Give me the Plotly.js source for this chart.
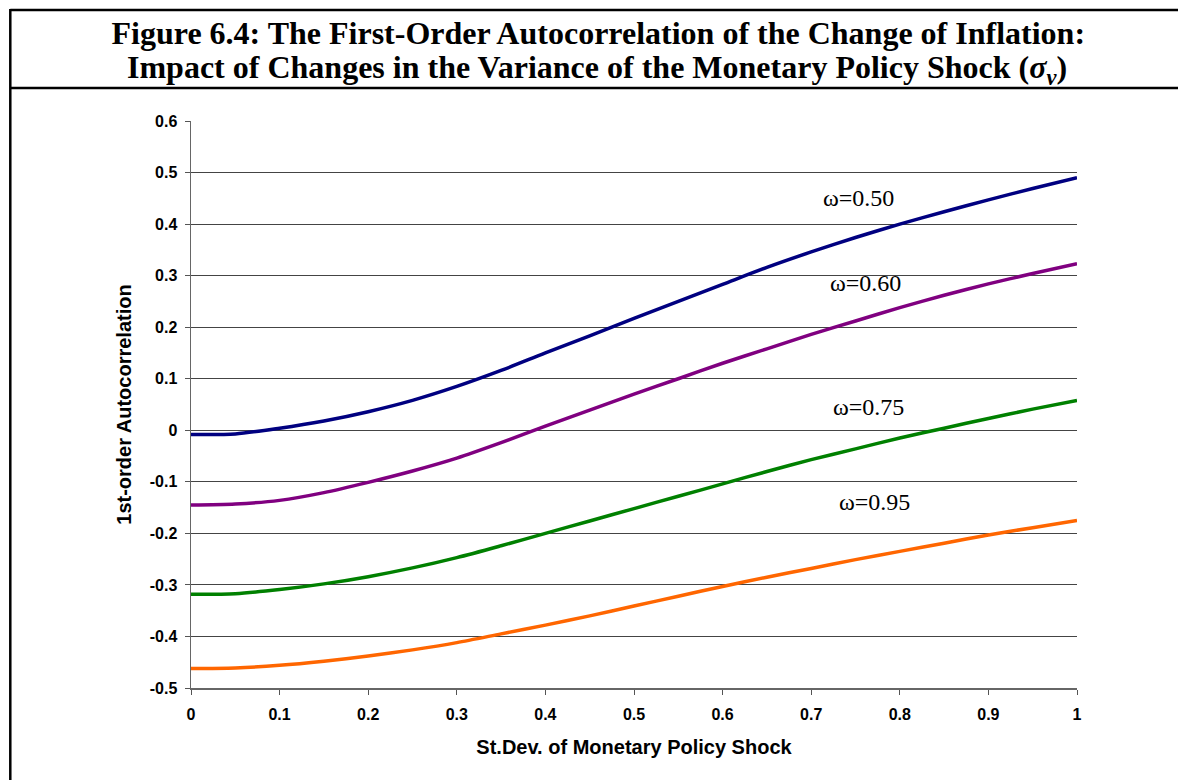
<!DOCTYPE html>
<html>
<head>
<meta charset="utf-8">
<script src="https://cdn.plot.ly/plotly-3.0.1.min.js"></script>
<style>
  html, body { margin: 0; padding: 0; background: #fff; }
  #chart { width: 1178px; height: 780px; }
</style>
</head>
<body>
<div id="chart"></div>
<script>
// ---- data ----
const sigmaV = [0, 0.05, 0.1, 0.15, 0.2, 0.25, 0.3, 0.35, 0.4, 0.45, 0.5,
                0.55, 0.6, 0.65, 0.7, 0.75, 0.8, 0.85, 0.9, 0.95, 1.0];
const omega050 = [-0.008, -0.007, 0.004, 0.018, 0.036, 0.058, 0.085, 0.116, 0.150, 0.183, 0.217,
                  0.250, 0.283, 0.316, 0.346, 0.374, 0.400, 0.424, 0.447, 0.469, 0.490];
const omega060 = [-0.145, -0.143, -0.136, -0.121, -0.101, -0.079, -0.054, -0.024, 0.008, 0.039, 0.070,
                  0.100, 0.130, 0.158, 0.186, 0.212, 0.238, 0.262, 0.284, 0.304, 0.323];
const omega075 = [-0.318, -0.317, -0.309, -0.298, -0.284, -0.267, -0.247, -0.224, -0.200, -0.176, -0.152,
                  -0.128, -0.104, -0.080, -0.057, -0.036, -0.015, 0.004, 0.023, 0.041, 0.058];
const omega095 = [-0.462, -0.461, -0.456, -0.448, -0.438, -0.426, -0.412, -0.395, -0.378, -0.360, -0.341,
                  -0.322, -0.303, -0.285, -0.268, -0.251, -0.235, -0.219, -0.203, -0.189, -0.175];
const seriesLabels = ["ω=0.50", "ω=0.60", "ω=0.75", "ω=0.95"];
const xTickVals = [0, 0.1, 0.2, 0.3, 0.4, 0.5, 0.6, 0.7, 0.8, 0.9, 1];
const xTickText = ["0", "0.1", "0.2", "0.3", "0.4", "0.5", "0.6", "0.7", "0.8", "0.9", "1"];
const yTickVals = [-0.5, -0.4, -0.3, -0.2, -0.1, 0, 0.1, 0.2, 0.3, 0.4, 0.5, 0.6];
const yTickText = ["-0.5", "-0.4", "-0.3", "-0.2", "-0.1", "0", "0.1", "0.2", "0.3", "0.4", "0.5", "0.6"];
const titleLine1 = "Figure 6.4: The First-Order Autocorrelation of the Change of Inflation:";
const titleLine2 = "Impact of Changes in the Variance of the Monetary Policy Shock (<i>σ<sub>v</sub></i>)";

// ---- styling ----
const colors = ["#000080", "#800080", "#008000", "#FF6600"];
const allSeries = [omega050, omega060, omega075, omega095];
const labelPos = [[0.753, 0.451], [0.761, 0.286], [0.765, 0.045], [0.772, -0.139]];

const W = 1178, H = 780;
const L = 190.7, R = 1076.7, T = 121, B = 687.7;
const px2x = p => (p - L) / (R - L);
const py2y = p => (B - p) / (B - T);
const serif = 'Liberation Serif, Times New Roman, serif';
const sans = 'Liberation Sans, Arial, sans-serif';

const traces = allSeries.map((ys, i) => ({
  x: sigmaV, y: ys, type: 'scatter', mode: 'lines',
  name: seriesLabels[i],
  line: { color: colors[i], width: 3.5, shape: 'spline', smoothing: 0.8 },
  showlegend: false, hoverinfo: 'skip'
}));

const annotations = seriesLabels.map((t, i) => ({
  x: labelPos[i][0], y: labelPos[i][1], xref: 'x', yref: 'y',
  text: t, showarrow: false,
  font: { family: serif, size: 24, color: '#000' },
  xanchor: 'center', yanchor: 'middle'
}));
annotations.push({
  x: px2x(597), y: py2y(70), xref: 'paper', yref: 'paper',
  text: '<b>' + titleLine2 + '</b>', showarrow: false,
  font: { family: serif, size: 32, color: '#000' },
  xanchor: 'center', yanchor: 'middle'
});

const borderLine = { color: '#000', width: 2.5 };
const shapes = [
  { type: 'line', xref: 'paper', yref: 'paper', x0: px2x(10), x1: px2x(W + 5), y0: py2y(10), y1: py2y(10), line: borderLine },
  { type: 'line', xref: 'paper', yref: 'paper', x0: px2x(10), x1: px2x(W + 5), y0: py2y(88), y1: py2y(88), line: borderLine },
  { type: 'line', xref: 'paper', yref: 'paper', x0: px2x(10), x1: px2x(10), y0: py2y(9), y1: py2y(H + 5), line: borderLine }
];

const tickFont = { family: sans, size: 16, color: '#000', weight: 'bold' };
const axisTitleFont = { family: sans, size: 20, color: '#000', weight: 'bold' };

const layout = {
  width: W, height: H,
  margin: { l: L, r: W - R, t: T, b: H - B, pad: 0 },
  paper_bgcolor: '#fff', plot_bgcolor: '#fff',
  title: {
    text: '<b>' + titleLine1 + '</b>',
    font: { family: serif, size: 32, color: '#000' },
    x: px2x(598), xref: 'paper', xanchor: 'center',
    y: 1 - 33 / H, yref: 'container', yanchor: 'middle'
  },
  xaxis: {
    range: [0, 1], tickvals: xTickVals, ticktext: xTickText,
    ticks: 'outside', ticklen: 5, tickwidth: 1, tickcolor: '#555',
    showline: true, linecolor: '#666', linewidth: 1.5,
    showgrid: false, zeroline: false, tickfont: tickFont,
    ticklabelstandoff: 6,
    title: { text: 'St.Dev. of Monetary Policy Shock', font: axisTitleFont, standoff: 18 }
  },
  yaxis: {
    range: [-0.5, 0.6], tickvals: yTickVals, ticktext: yTickText,
    ticks: 'outside', ticklen: 5, tickwidth: 1, tickcolor: '#555',
    showline: true, linecolor: '#666', linewidth: 1.5,
    showgrid: true, gridcolor: '#444', gridwidth: 1,
    zeroline: false, tickfont: tickFont,
    ticklabelstandoff: 4,
    title: { text: '1st-order Autocorrelation', font: axisTitleFont, standoff: 12 }
  },
  annotations: annotations,
  shapes: shapes
};

Plotly.newPlot('chart', traces, layout, { staticPlot: true, displayModeBar: false });
</script>
</body>
</html>
